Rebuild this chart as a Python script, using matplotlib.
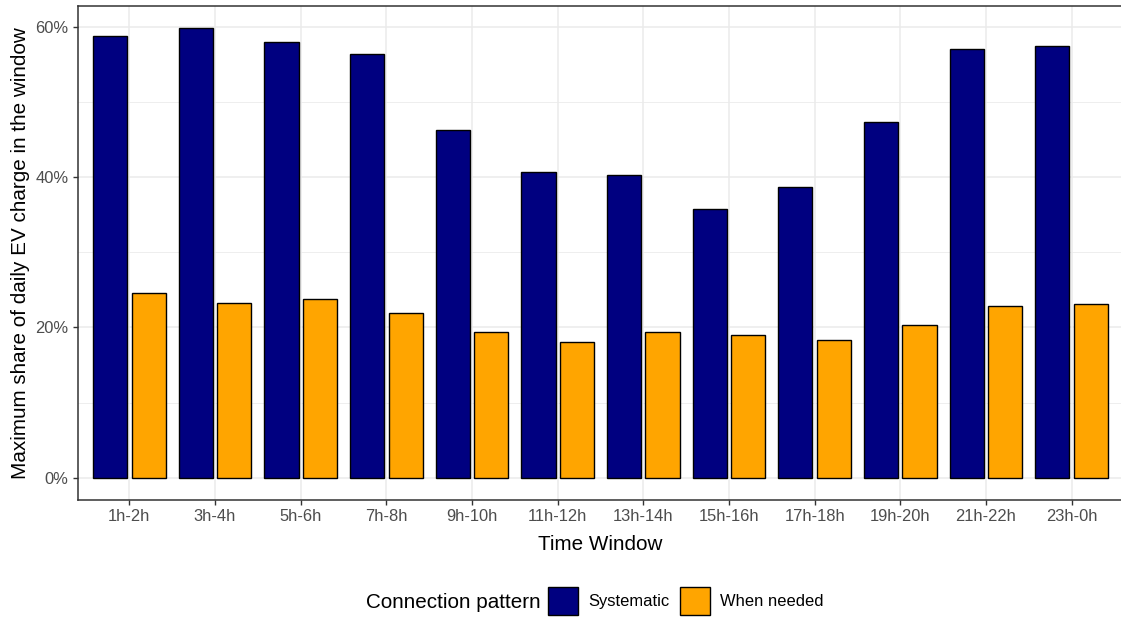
import numpy as np
import matplotlib.pyplot as plt
from matplotlib.patches import Patch
from matplotlib.ticker import FuncFormatter, MultipleLocator

plt.rcParams['font.family'] = ['Liberation Sans', 'DejaVu Sans']

# Data (percent)
windows = ['1h-2h', '3h-4h', '5h-6h', '7h-8h', '9h-10h', '11h-12h',
           '13h-14h', '15h-16h', '17h-18h', '19h-20h', '21h-22h', '23h-0h']
systematic = [58.9, 59.85, 58.1, 56.5, 46.3, 40.7, 40.3, 35.8, 38.75, 47.4, 57.1, 57.5]
when_needed = [24.55, 23.2, 23.75, 21.9, 19.4, 18.05, 19.4, 19.0, 18.3, 20.3, 22.8, 23.1]
series_names = ['Systematic', 'When needed']
series_colors = ['#000080', '#FFA500']

W, H = 1121, 617
fig = plt.figure(figsize=(W / 100, H / 100), dpi=100)
ax = fig.add_axes([78 / W, (H - 500) / H, (1123 - 78) / W, (500 - 6) / H])

x = np.arange(1, len(windows) + 1)
bw = 0.4
for vals, off, col in zip([systematic, when_needed], [-0.225, 0.225], series_colors):
    ax.bar(x + off, vals, width=bw, color=col, edgecolor='black', linewidth=1.0, zorder=3)

ymax = max(systematic)
ax.set_ylim(-0.05 * ymax, 1.05 * ymax)
ax.set_xlim(0.4, len(windows) + 0.6)

ax.yaxis.set_major_locator(MultipleLocator(20))
ax.yaxis.set_minor_locator(MultipleLocator(10))
ax.yaxis.set_major_formatter(FuncFormatter(lambda v, p: f'{v:.0f}%'))
ax.set_xticks(x)
ax.set_xticklabels(windows)

ax.grid(which='major', color='#EBEBEB', linewidth=1.1, zorder=0)
ax.grid(which='minor', axis='y', color='#EBEBEB', linewidth=0.6, zorder=0)
ax.set_axisbelow(True)

for s in ax.spines.values():
    s.set_color('#333333')
    s.set_linewidth(1.1)

ax.tick_params(axis='both', which='major', length=3.7, width=1.0, color='#333333',
               labelcolor='#4D4D4D', labelsize=11.9, pad=3)
ax.tick_params(axis='y', which='minor', length=0)

ax.set_xlabel('Time Window', fontsize=14.85, color='black', labelpad=7.5)
ax.set_ylabel('Maximum share of daily EV charge in the window', fontsize=14.85,
              color='black', labelpad=4)

# legend at bottom, title on the left
fig.text(366 / W, 1 - 602 / H, 'Connection pattern', fontsize=14.85,
         ha='left', va='center')
handles = [Patch(facecolor=c, edgecolor='black', linewidth=1.0) for c in series_colors]
fig.legend(handles, series_names, loc='center left', bbox_to_anchor=(548 / W, 1 - 601 / H),
           ncol=2, frameon=False, fontsize=11.9, handlelength=1.82, handleheight=2.3,
           handletextpad=0.6, columnspacing=0.67, borderpad=0, borderaxespad=0)

fig.savefig('out.png', dpi=100)
